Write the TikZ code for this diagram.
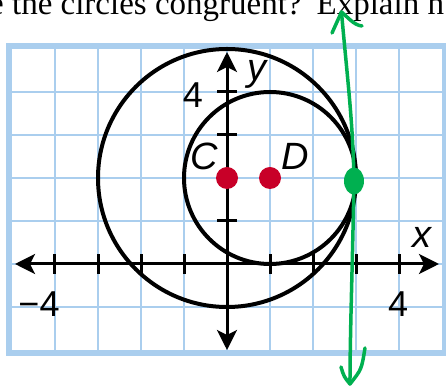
\documentclass[tikz,border=0pt]{standalone}
\usepackage{fontspec}
\setmainfont{Liberation Serif}
\newfontfamily\lblfont{Liberation Sans}
\usetikzlibrary{arrows.meta,shapes.geometric}
\definecolor{gridblue}{RGB}{170,206,238}
\definecolor{dotred}{RGB}{200,0,40}
\definecolor{pengreen}{RGB}{0,176,80}
\begin{document}
\begin{tikzpicture}[x=43pt,y=43pt,
  gridline/.style={draw=gridblue,line width=2.5pt},
  gridborder/.style={draw=gridblue,line width=6pt},
  axisline/.style={draw=black,line width=3pt},
  axisarrows/.style={axisline,{Stealth[length=20pt,width=20pt,inset=5pt]}-{Stealth[length=20pt,width=20pt,inset=5pt]}},
  circ/.style={draw=black,line width=4pt},
  dotnode/.style={circle,fill=dotred,draw=none,minimum size=22pt,inner sep=0pt},
  gdot/.style={ellipse,fill=pengreen,draw=none,minimum width=20pt,minimum height=27pt,inner sep=0pt},
  pen/.style={draw=pengreen,line width=3.5pt,line cap=round,line join=round},
  numlbl/.style={font=\lblfont\fontsize{36pt}{36pt}\selectfont,inner sep=0pt},
  letlbl/.style={font=\lblfont\itshape\fontsize{38pt}{38pt}\selectfont,inner sep=0pt},
  toptext/.style={font=\fontsize{33pt}{33pt}\selectfont,inner sep=0pt,anchor=base west}]
\useasboundingbox (-5.2791,-2.8605) rectangle (5.0930,6.1395);
\clip (-5.2791,-2.8605) rectangle (5.0930,6.1395);
\fill[white] (-5.2791,-2.8605) rectangle (5.0930,6.1395);
% heading text (cut off)
\node[toptext] (head) at (-5.535,5.791) {e the circles congruent?\hspace{15pt}Explain h};
% grid
\foreach \gx in {-4,...,4} \draw[gridline] (\gx,-2) -- (\gx,5);
\foreach \gy in {-1,...,4} \draw[gridline] (-5,\gy) -- (5,\gy);
\draw[gridborder] (-5.07,-2.07) rectangle (5.07,5.07);
% circles
\draw[circ] (0,2) circle (3);
\draw[circ] (1,2) circle (2);
% axes
\coordinate (xl) at (-4.93,0);
\coordinate (xr) at (4.93,0);
\coordinate (yb) at (0,-2.0);
\coordinate (yt) at (0,4.93);
\draw[axisarrows] (xl) -- (xr);
\draw[axisarrows] (yb) -- (yt);
\foreach \t in {-4,-3,-2,-1,1,2,3,4} \draw[axisline] (\t,-0.23) -- (\t,0.23);
\foreach \t in {-1,1,3,4} \draw[axisline] (-0.23,\t) -- (0.23,\t);
% labels
\node[numlbl] (ly4) at (-0.791,3.93) {4};
\node[numlbl] (lxm4) at (-4.372,-0.93) {−4};
\node[numlbl] (lx4) at (3.977,-0.93) {4};
\node[letlbl] (ly) at (0.709,4.419) {y};
\node[letlbl] (lx) at (4.535,0.616) {x};
\node[letlbl] (lC) at (-0.535,2.5) {C};
\node[letlbl] (lD) at (1.593,2.5) {D};
% centres
\node[dotnode] (C) at (0,2) {};
\node[dotnode] (D) at (1,2) {};
% green pen line
\coordinate (gtop) at (2.662,5.860);
\coordinate (gbot) at (2.860,-2.791);
\coordinate (gmid) at (2.953,1.93);
\draw[pen] (gtop) .. controls (2.80,4.3) and (2.93,3.3) .. (gmid) .. controls (2.92,0) and (2.86,-1.6) .. (gbot);
\draw[pen] (2.442,5.372) .. controls (2.53,5.62) .. (gtop) .. controls (2.80,5.75) and (2.95,5.55) .. (3.14,5.535);
\draw[pen] (2.651,-2.395) .. controls (2.72,-2.62) .. (gbot);
\draw[pen] (3.209,-1.953) .. controls (3.13,-2.45) .. (gbot);
\node[gdot] (T) at (gmid) {};
\end{tikzpicture}
\end{document}
